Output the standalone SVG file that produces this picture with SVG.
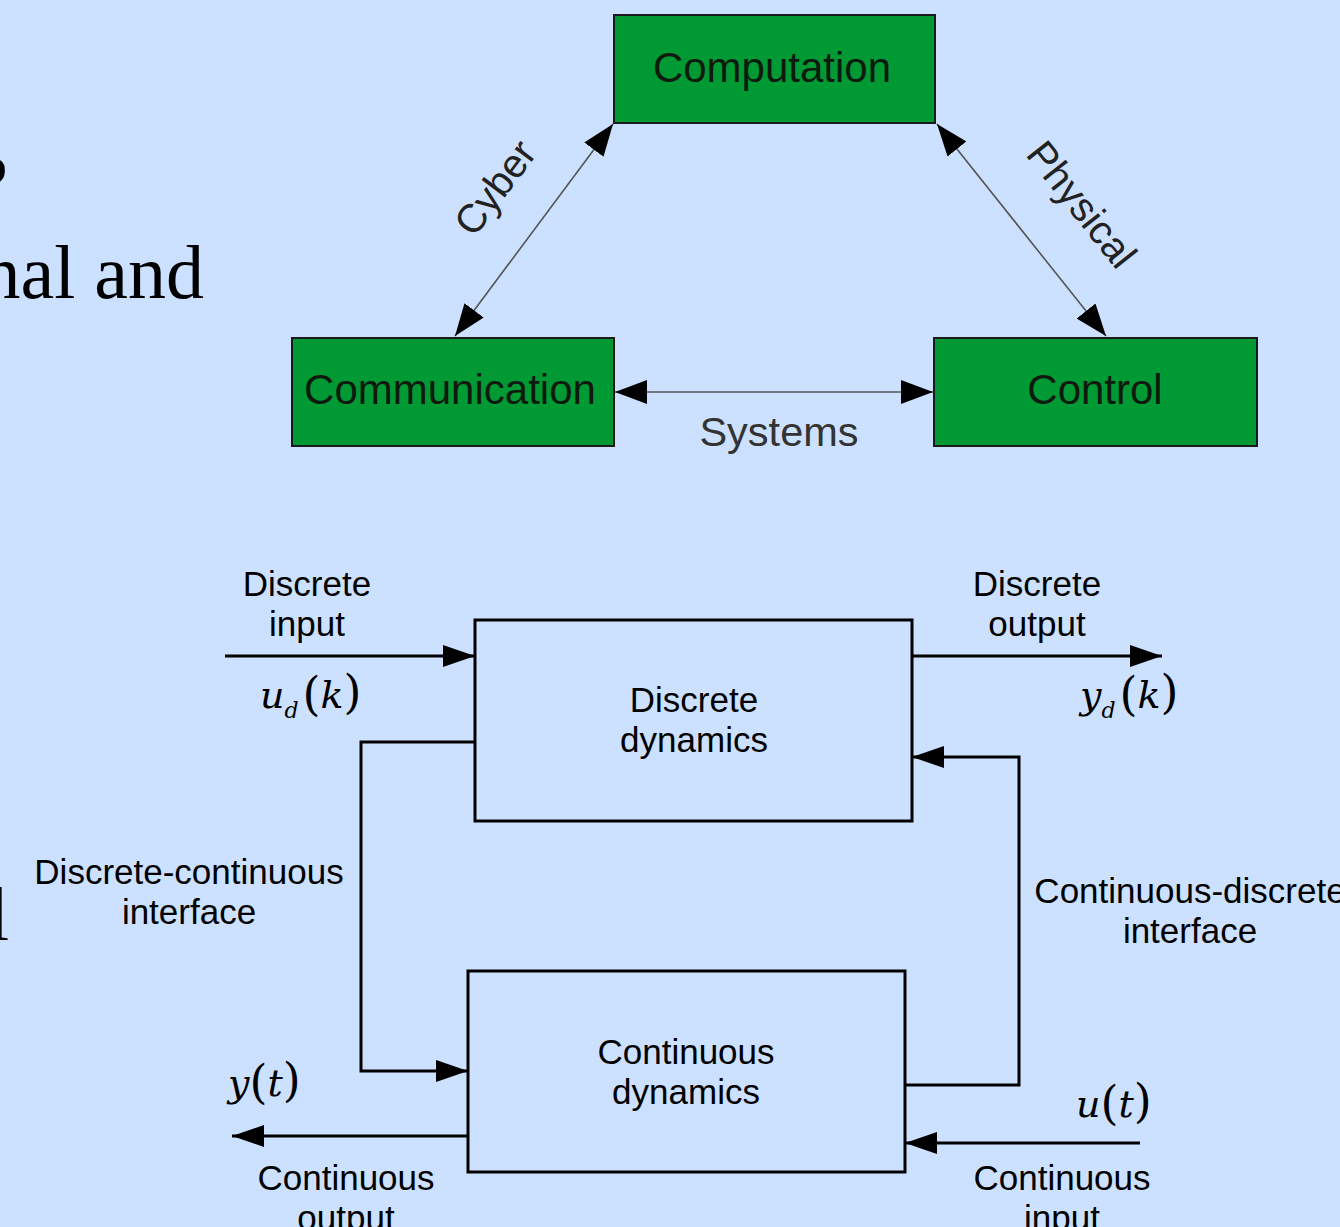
<svg xmlns="http://www.w3.org/2000/svg" width="1340" height="1227" viewBox="0 0 1340 1227">
<defs>
<style>
.bg{fill:#cce0ff}
.gbox{fill:#009933;stroke:#1a1a1a;stroke-width:2}
.gtxt{font-family:"Liberation Sans",Arial,sans-serif;font-size:42px;fill:#0d1a0d;text-anchor:middle}
.thin{stroke:#555;stroke-width:1.6;fill:none}
.rot{font-family:"Liberation Sans",Arial,sans-serif;font-size:40px;fill:#222;text-anchor:middle}
.sys{font-family:"Liberation Sans",Arial,sans-serif;font-size:41.5px;fill:#333;text-anchor:middle}
.wbox{fill:none;stroke:#000;stroke-width:3}
.wire{stroke:#000;stroke-width:3;fill:none}
.lbl{font-family:"Liberation Sans",Arial,sans-serif;font-size:35px;fill:#000;text-anchor:middle}
.math{font-family:"DejaVu Serif","Liberation Serif",serif;font-style:italic;font-size:38px;fill:#000}
.sub{font-family:"DejaVu Serif","Liberation Serif",serif;font-style:italic;font-size:22px;fill:#000}
.par{font-family:"DejaVu Serif","Liberation Serif",serif;font-size:46px;fill:#000;font-weight:300}
.bgtxt{font-family:"Liberation Serif","Times New Roman",serif;font-size:76px;fill:#000;text-anchor:end}
</style>
<marker id="ah1" markerUnits="userSpaceOnUse" markerWidth="32" markerHeight="24" viewBox="0 0 32 24" refX="32" refY="12" orient="auto-start-reverse"><path d="M0,0 L32,12 L0,24 Z" fill="#000"/></marker>
<marker id="ah2" markerUnits="userSpaceOnUse" markerWidth="32" markerHeight="22" viewBox="0 0 32 22" refX="32" refY="11" orient="auto-start-reverse"><path d="M0,0 L32,11 L0,22 Z" fill="#000"/></marker>
</defs>
<rect class="bg" x="0" y="0" width="1340" height="1227"/>
<g id="background-text">
<text class="bgtxt" x="8" y="208">?</text>
<text class="bgtxt" x="204" y="298">nal and</text>
<text class="bgtxt" x="9" y="940">l</text>
</g>
<g id="connectors">
<line class="thin" x1="455" y1="336" x2="613" y2="124" marker-start="url(#ah1)" marker-end="url(#ah1)"/>
<line class="thin" x1="937" y1="124" x2="1106" y2="336" marker-start="url(#ah1)" marker-end="url(#ah1)"/>
<line class="thin" x1="615" y1="392" x2="933" y2="392" stroke="#000" marker-start="url(#ah1)" marker-end="url(#ah1)"/>
<line class="wire" x1="225" y1="656" x2="475" y2="656" marker-end="url(#ah2)"/>
<line class="wire" x1="912" y1="656" x2="1162" y2="656" marker-end="url(#ah2)"/>
<path class="wire" d="M475,742 H361 V1071 H468" marker-end="url(#ah2)"/>
<path class="wire" d="M905,1085 H1019 V757 H912" marker-end="url(#ah2)"/>
<line class="wire" x1="468" y1="1136" x2="232" y2="1136" marker-end="url(#ah2)"/>
<line class="wire" x1="1140" y1="1143" x2="905" y2="1143" marker-end="url(#ah2)"/>
</g>
<g id="edge-labels">
<text class="rot" transform="translate(506,196) rotate(-53)">Cyber</text>
<text class="rot" transform="translate(1071,213) rotate(51.5)">Physical</text>
<text class="sys" x="779" y="446">Systems</text>
<text class="lbl" x="307" y="596">Discrete</text>
<text class="lbl" x="307" y="636">input</text>
<text class="lbl" x="1037" y="596">Discrete</text>
<text class="lbl" x="1037" y="636">output</text>
<text class="lbl" x="189" y="884">Discrete-continuous</text>
<text class="lbl" x="189" y="924">interface</text>
<text class="lbl" x="1190" y="903">Continuous-discrete</text>
<text class="lbl" x="1190" y="943">interface</text>
<text class="lbl" x="346" y="1190">Continuous</text>
<text class="lbl" x="346" y="1230">output</text>
<text class="lbl" x="1062" y="1190">Continuous</text>
<text class="lbl" x="1062" y="1230">input</text>
</g>
<g id="math-labels">
<text x="260" y="708"><tspan class="math">u</tspan><tspan class="sub" dy="10">d</tspan><tspan class="par" dy="-8" dx="4">(</tspan><tspan class="math" dy="-2">k</tspan><tspan class="par">)</tspan></text>
<text x="1080" y="708"><tspan class="math">y</tspan><tspan class="sub" dy="10">d</tspan><tspan class="par" dy="-8" dx="4">(</tspan><tspan class="math" dy="-2">k</tspan><tspan class="par">)</tspan></text>
<text x="228" y="1096"><tspan class="math">y</tspan><tspan class="par" dy="2">(</tspan><tspan class="math" dy="-2">t</tspan><tspan class="par">)</tspan></text>
<text x="1076" y="1117"><tspan class="math">u</tspan><tspan class="par" dy="2">(</tspan><tspan class="math" dy="-2">t</tspan><tspan class="par">)</tspan></text>
</g>
<g id="node-computation">
<rect class="gbox" x="614" y="15" width="321" height="108"/>
<text class="gtxt" x="772" y="82">Computation</text>
</g>
<g id="node-communication">
<rect class="gbox" x="292" y="338" width="322" height="108"/>
<text class="gtxt" x="450" y="404">Communication</text>
</g>
<g id="node-control">
<rect class="gbox" x="934" y="338" width="323" height="108"/>
<text class="gtxt" x="1095" y="404">Control</text>
</g>
<g id="node-discrete-dynamics">
<rect class="wbox" x="475" y="620" width="437" height="201"/>
<text class="lbl" x="694" y="712">Discrete</text>
<text class="lbl" x="694" y="752">dynamics</text>
</g>
<g id="node-continuous-dynamics">
<rect class="wbox" x="468" y="971" width="437" height="201"/>
<text class="lbl" x="686" y="1064">Continuous</text>
<text class="lbl" x="686" y="1104">dynamics</text>
</g>
</svg>
